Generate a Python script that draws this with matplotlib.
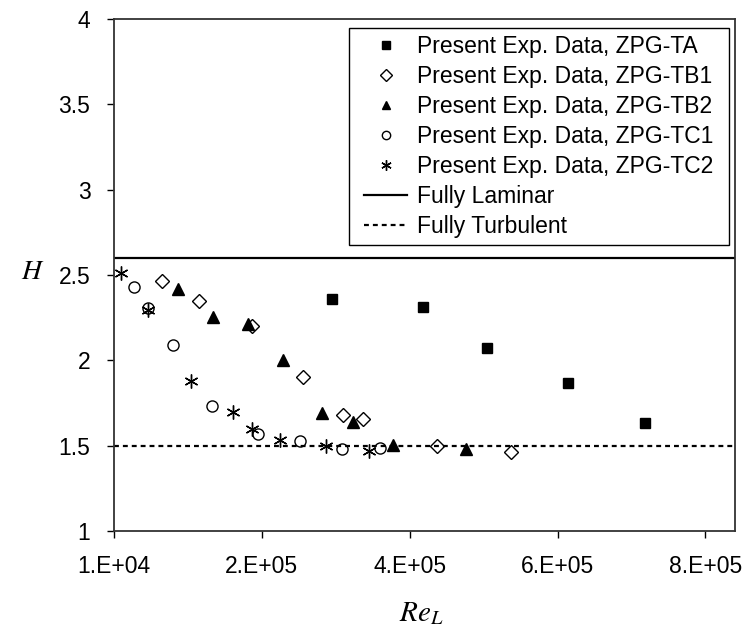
import matplotlib
matplotlib.use("Agg")
import matplotlib.pyplot as plt
from matplotlib.path import Path

plt.rcParams['font.family'] = ['Liberation Sans', 'DejaVu Sans']
plt.rcParams['mathtext.fontset'] = 'stix'

# data (Re_L, H)
ta_x = [3.05e5, 4.28e5, 5.14e5, 6.24e5, 7.28e5]
ta_h = [2.36, 2.31, 2.07, 1.87, 1.63]
tb1_x = [7.5e4, 1.25e5, 1.97e5, 2.65e5, 3.20e5, 3.47e5, 4.47e5, 5.47e5]
tb1_h = [2.465, 2.35, 2.20, 1.90, 1.68, 1.655, 1.50, 1.465]
tb2_x = [9.7e4, 1.44e5, 1.91e5, 2.38e5, 2.92e5, 3.33e5, 3.87e5, 4.86e5]
tb2_h = [2.42, 2.255, 2.21, 2.00, 1.69, 1.64, 1.505, 1.48]
tc1_x = [3.7e4, 5.6e4, 9.0e4, 1.43e5, 2.05e5, 2.62e5, 3.19e5, 3.70e5]
tc1_h = [2.43, 2.305, 2.09, 1.735, 1.57, 1.525, 1.48, 1.485]
tc2_x = [1.95e4, 5.6e4, 1.14e5, 1.71e5, 1.97e5, 2.34e5, 2.97e5, 3.55e5]
tc2_h = [2.51, 2.295, 1.88, 1.695, 1.595, 1.535, 1.50, 1.47]

h_laminar = 2.6
h_turbulent = 1.5

x_ticks = [1e4, 2.1e5, 4.1e5, 6.1e5, 8.1e5]
x_ticklabels = ['1.E+04', '2.E+05', '4.E+05', '6.E+05', '8.E+05']
y_ticks = [1, 1.5, 2, 2.5, 3, 3.5, 4]
y_ticklabels = ['1', '1.5', '2', '2.5', '3', '3.5', '4']


def wide_box(x0, y0, width, height, mutation_size):
    # legend frame with extra room left and right only
    dx = 0.39 * mutation_size
    return Path([(x0 - dx, y0), (x0 + width + dx, y0), (x0 + width + dx, y0 + height),
                 (x0 - dx, y0 + height), (x0 - dx, y0)], closed=True)


fig = plt.figure(figsize=(7.48, 6.27), dpi=100)
ax = fig.add_axes([0.1524, 0.1531, 0.8302, 0.8166])

ax.plot(ta_x, ta_h, ls='none', marker='s', ms=7.3, mfc='black', mec='black',
        label='Present Exp. Data, ZPG-TA')
ax.plot(tb1_x, tb1_h, ls='none', marker='D', ms=7.5, mfc='white', mec='black', mew=1.0,
        label='Present Exp. Data, ZPG-TB1')
ax.plot(tb2_x, tb2_h, ls='none', marker='^', ms=8.5, mfc='black', mec='black',
        label='Present Exp. Data, ZPG-TB2')
ax.plot(tc1_x, tc1_h, ls='none', marker='o', ms=8, mfc='none', mec='black', mew=1.0,
        label='Present Exp. Data, ZPG-TC1')
ax.plot(tc2_x, tc2_h, ls='none', marker=(6, 2, 0), ms=10, mec='black', mew=1.0,
        label='Present Exp. Data, ZPG-TC2')
ax.axhline(h_laminar, color='black', lw=1.6, label='Fully Laminar')
ax.axhline(h_turbulent, color='black', lw=1.6, ls=(0, (2.2, 1.8)), label='Fully Turbulent')

ax.set_xlim(1e4, 8.5e5)
ax.set_ylim(1, 4)
ax.set_xticks(x_ticks)
ax.set_xticklabels(x_ticklabels)
ax.set_yticks(y_ticks)
ax.set_yticklabels(y_ticklabels)
ax.tick_params(direction='out', length=5, width=1, labelsize=16.5, colors='black')
ax.tick_params(axis='x', pad=12)
ax.tick_params(axis='y', pad=12)
for sp in ax.spines.values():
    sp.set_linewidth(1.3)
    sp.set_color('#333333')

leg = ax.legend(loc='upper right', bbox_to_anchor=(0.9758, 0.982), borderaxespad=0,
                fontsize=16.5, frameon=True, fancybox=False, edgecolor='black',
                framealpha=1, markerscale=0.75, handlelength=1.87, handletextpad=0.43,
                labelspacing=0.31, borderpad=0.28)
leg.get_frame().set_linewidth(1.0)
leg.get_frame().set_boxstyle(wide_box)

fig.text(0.044, 0.566, r'$H$', fontsize=20, ha='center', va='center')
fig.text(0.563, 0.0096, r'$Re_L$', fontsize=21, ha='center', va='baseline')

fig.savefig('out.png', dpi=100)
